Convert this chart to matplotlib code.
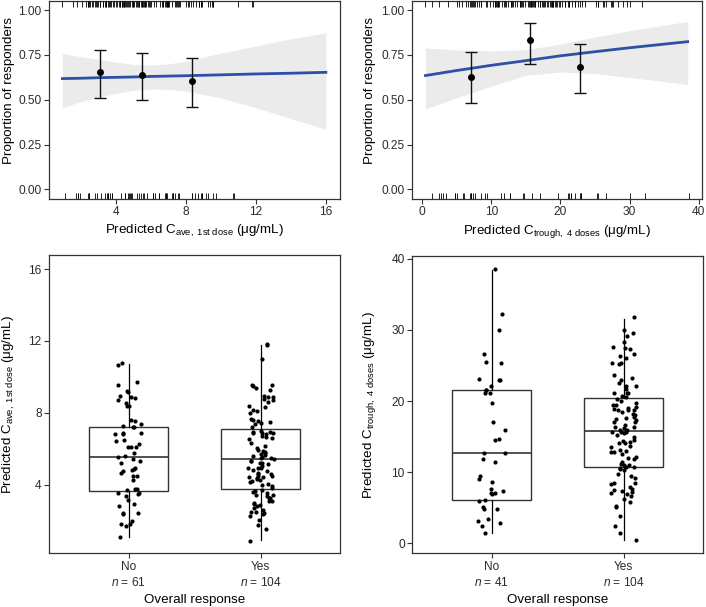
import numpy as np
import matplotlib
matplotlib.use("Agg")
import matplotlib.pyplot as plt

plt.rcParams['font.family'] = ['Liberation Sans', 'DejaVu Sans']
plt.rcParams['mathtext.fontset'] = 'custom'
plt.rcParams['mathtext.rm'] = 'Liberation Sans'
plt.rcParams['mathtext.it'] = 'Liberation Sans:italic'
plt.rcParams['mathtext.bf'] = 'Liberation Sans:bold'

# ---------------- data ----------------
categories = ["No", "Yes"]

cave_no = [10.67, 10.76, 9.73, 8.89, 9.56, 9.23, 9.14, 8.91, 8.84, 8.69, 8.52, 8.37, 8.35,
           7.6, 7.57, 7.38, 7.27, 7.19, 7.23, 6.84, 6.8, 6.9, 6.86, 6.48, 6.24, 6.11, 6.11,
           6.11, 6.45, 5.77, 5.59, 5.55, 5.42, 5.33, 5.18, 4.8, 4.75, 4.92, 4.88, 4.67, 4.49,
           4.49, 4.28, 3.74, 3.68, 3.76, 3.55, 3.55, 3.48, 3.37, 3.16, 2.79, 2.9, 2.43, 2.43,
           2.38, 1.82, 1.7, 1.95, 1.82, 1.07]
cave_yes = [11.84, 11.76, 11.0, 9.56, 9.47, 9.28, 9.56, 8.86, 8.91, 8.76, 8.72, 8.86, 8.6,
            8.4, 8.11, 7.98, 8.18, 7.6, 7.51, 7.64, 7.36, 7.0, 6.95, 6.89, 6.8, 6.86, 6.89,
            6.67, 6.54, 6.17, 6.02, 5.87, 5.74, 5.66, 5.68, 5.55, 5.59, 5.46, 5.33, 5.18,
            5.23, 5.14, 4.95, 4.92, 4.95, 4.8, 4.75, 4.67, 4.58, 4.49, 4.47, 4.35, 4.34,
            4.24, 4.15, 3.98, 3.81, 3.72, 3.53, 3.44, 3.23, 3.35, 3.27, 3.08, 2.97, 2.86,
            2.79, 2.69, 2.6, 2.47, 2.41, 2.38, 2.28, 2.04, 1.78, 1.52, 0.88,
            7.2, 7.45, 7.55, 8.3, 9.4, 3.6, 3.1, 2.9, 2.5, 3.65, 3.4,
            6.95, 6.7, 6.6, 6.3, 5.95, 5.8, 5.5, 5.42, 5.3, 5.05, 4.6, 4.45, 4.4, 4.2, 4.05, 3.9]
ctr_no = [38.6, 32.2, 30.0, 26.6, 25.5, 25.3, 23.05, 22.9, 23.0, 22.1, 21.6, 21.5, 21.2, 21.1,
          19.7, 17.1, 15.9, 14.7, 14.6, 12.7, 12.7, 11.8, 11.4, 9.4, 9.1, 8.6, 7.6, 7.4, 7.1,
          7.0, 7.1, 6.1, 5.9, 5.1, 4.8, 4.8, 3.4, 3.1, 2.8, 2.4, 1.4]
ctr_yes = [31.8, 30.0, 29.6, 29.1, 27.3, 27.6, 27.4, 28.3, 26.6, 26.3,
           26.1, 25.4, 25.4, 25.2, 23.6, 23.2, 22.9, 22.1, 22.1, 21.7,
           21.2, 21.2, 21.1, 20.7, 20.3, 20.0, 19.5, 19.2, 19.4, 19.0,
           18.8, 18.8, 18.7, 18.9, 18.2, 18.0, 17.8, 17.6, 17.1, 17.5,
           17.0, 16.7, 16.4, 16.4, 16.0, 15.7, 15.9, 15.7, 15.3, 15.6,
           14.6, 14.4, 14.1, 14.1, 13.7, 13.5, 13.1, 12.8, 12.8, 12.2,
           12.0, 11.5, 11.0, 10.8, 10.6, 10.7, 11.0, 10.5, 10.3, 9.4,
           9.2, 8.5, 8.5, 8.3, 7.9, 7.7, 7.5, 7.4, 7.2, 7.1,
           6.9, 6.7, 6.3, 5.8, 5.3, 5.1, 3.8, 2.4, 1.4, 0.5,
           20.6, 22.5, 9.8, 19.8, 18.5, 17.3, 16.2, 15.5, 14.9, 14.3, 13.0, 12.5, 11.8, 11.2]

# box statistics: (q1, median, q3, whisker low, whisker high)
cave_box_no = (3.64, 5.55, 7.19, 1.06, 10.72)
cave_box_yes = (3.75, 5.40, 7.08, 0.92, 11.76)
ctr_box_no = (6.14, 12.68, 21.6, 1.5, 38.4)
ctr_box_yes = (10.79, 15.86, 20.37, 0.5, 31.6)

# binned proportions with 95% CI
cave_bin_x = [3.08, 5.51, 8.32]
cave_bin_p = [0.656, 0.637, 0.605]
cave_bin_lo = [0.511, 0.498, 0.457]
cave_bin_hi = [0.778, 0.759, 0.731]
ctr_bin_x = [7.1, 15.6, 22.8]
ctr_bin_p = [0.629, 0.833, 0.685]
ctr_bin_lo = [0.483, 0.698, 0.540]
ctr_bin_hi = [0.764, 0.926, 0.811]

# logistic fit and its confidence band
cave_fit_x = [0.93, 2, 3, 4, 5, 6, 7, 8, 10, 12, 14, 16]
cave_fit_y = [0.618, 0.620, 0.623, 0.625, 0.627, 0.630, 0.632, 0.634, 0.639, 0.644, 0.648, 0.653]
cave_fit_hi = [0.757, 0.740, 0.725, 0.710, 0.697, 0.693, 0.700, 0.715, 0.760, 0.800, 0.840, 0.873]
cave_fit_lo = [0.456, 0.490, 0.515, 0.535, 0.553, 0.560, 0.558, 0.548, 0.510, 0.455, 0.395, 0.335]
ctr_fit_x = [0.5, 5, 10, 15, 20, 25, 30, 38.4]
ctr_fit_y = [0.635, 0.663, 0.692, 0.718, 0.745, 0.768, 0.790, 0.824]
ctr_fit_hi = [0.789, 0.778, 0.772, 0.780, 0.810, 0.850, 0.885, 0.937]
ctr_fit_lo = [0.450, 0.510, 0.575, 0.637, 0.655, 0.645, 0.625, 0.585]

prop_ticks = [0.0, 0.25, 0.5, 0.75, 1.0]
prop_labels = ["0.00", "0.25", "0.50", "0.75", "1.00"]
cave_ticks = [4, 8, 12, 16]
ctr_ticks = [0, 10, 20, 30, 40]
cave_n = [61, 104]
ctr_n = [41, 104]

# ---------------- styling ----------------
W, H = 706, 607
fig = plt.figure(figsize=(W / 100, H / 100), dpi=100)
EDGE = '#333333'
TICK_FS = 8.6
LAB_FS = 9.6
BLUE = '#2E4FA8'
RIBBON = '#EBEBEB'


def add_ax(l, t, r, b):
    return fig.add_axes([l / W, 1 - b / H, (r - l) / W, (b - t) / H])


def style(ax):
    for s in ax.spines.values():
        s.set_color(EDGE)
        s.set_linewidth(0.9)
    ax.tick_params(direction='out', length=3.5, width=0.8, color=EDGE,
                   labelsize=TICK_FS, labelcolor='#2B2B2B', pad=2)


def place_ylabel(ax, text, x_px, y_frac=0.5):
    ax.set_ylabel(text, fontsize=LAB_FS, va='center')
    pos = ax.get_position()
    left_px = pos.x0 * W
    ax.yaxis.set_label_coords((x_px - left_px) / (pos.width * W), y_frac)


cave_label = r"Predicted C$_{\mathregular{ave,\ 1st\ dose}}$ (μg/mL)"
ctr_label = r"Predicted C$_{\mathregular{trough,\ 4\ doses}}$ (μg/mL)"
cave_lim = (0.18, 16.78)
ctr_lim = (-1.4, 40.4)


def top_panel(ax, yes, no, fx, fy, flo, fhi, bx, bp, blo, bhi, lim, ticks, label, ylab_x):
    style(ax)
    ax.fill_between(fx, flo, fhi, color=RIBBON, linewidth=0, zorder=1)
    ax.plot(fx, fy, color=BLUE, linewidth=2.0, zorder=2)
    trans = ax.get_xaxis_transform()
    ax.vlines(yes, 0.97, 1.0, transform=trans, color='black', linewidth=0.6, zorder=3)
    ax.vlines(no, 0.0, 0.03, transform=trans, color='black', linewidth=0.6, zorder=3)
    bp_a = np.array(bp)
    yerr = np.vstack([bp_a - np.array(blo), np.array(bhi) - bp_a])
    ax.errorbar(bx, bp, yerr=yerr, fmt='o', color='black', ecolor='#111111',
                markersize=4, elinewidth=1.0, capsize=4.3, capthick=1.0, zorder=4)
    ax.set_xlim(*lim)
    ax.set_ylim(-0.052, 1.052)
    ax.set_xticks(ticks)
    ax.set_yticks(prop_ticks)
    ax.set_yticklabels(prop_labels)
    ax.set_xlabel(label, fontsize=LAB_FS, labelpad=3)
    place_ylabel(ax, "Proportion of responders", ylab_x, 0.545)


def bottom_panel(ax, no, yes, box_no, box_yes, lim, ticks, label, ns, seed, ylab_x):
    style(ax)
    stats = []
    for b in (box_no, box_yes):
        stats.append(dict(q1=b[0], med=b[1], q3=b[2], whislo=b[3], whishi=b[4], fliers=[]))
    ax.bxp(stats, positions=[1, 2], widths=0.6, patch_artist=True, showcaps=False,
           showfliers=False,
           boxprops=dict(facecolor='white', edgecolor=EDGE, linewidth=1.0),
           medianprops=dict(color=EDGE, linewidth=1.2),
           whiskerprops=dict(color='black', linewidth=0.9))
    rng = np.random.default_rng(seed)
    for pos, vals in ((1, no), (2, yes)):
        jit = rng.uniform(-0.1, 0.1, len(vals))
        ax.scatter(pos + jit, vals, s=9, color='black', linewidths=0, zorder=4)
    ax.set_xlim(0.4, 2.6)
    ax.set_ylim(*lim)
    ax.set_yticks(ticks)
    ax.set_xticks([1, 2])
    ax.set_xticklabels([f"{c}\n$n$ = {n}" for c, n in zip(categories, ns)],
                       linespacing=1.3)
    ax.set_xlabel("Overall response", fontsize=LAB_FS, labelpad=4)
    place_ylabel(ax, label, ylab_x)


ax1 = add_ax(49.3, 0.8, 339.5, 198.7)
top_panel(ax1, cave_yes, cave_no, cave_fit_x, cave_fit_y, cave_fit_lo, cave_fit_hi,
          cave_bin_x, cave_bin_p, cave_bin_lo, cave_bin_hi, cave_lim, cave_ticks, cave_label, 9)

ax2 = add_ax(412.3, 0.8, 701.5, 198.7)
top_panel(ax2, ctr_yes, ctr_no, ctr_fit_x, ctr_fit_y, ctr_fit_lo, ctr_fit_hi,
          ctr_bin_x, ctr_bin_p, ctr_bin_lo, ctr_bin_hi, ctr_lim, ctr_ticks, ctr_label, 370)

ax3 = add_ax(49.3, 255, 340, 553.3)
bottom_panel(ax3, cave_no, cave_yes, cave_box_no, cave_box_yes, cave_lim, cave_ticks,
             cave_label, cave_n, 3, 9)

ax4 = add_ax(412.3, 256, 703, 553.3)
bottom_panel(ax4, ctr_no, ctr_yes, ctr_box_no, ctr_box_yes, ctr_lim, ctr_ticks,
             ctr_label, ctr_n, 7, 370)

fig.savefig("out.png", dpi=100)
